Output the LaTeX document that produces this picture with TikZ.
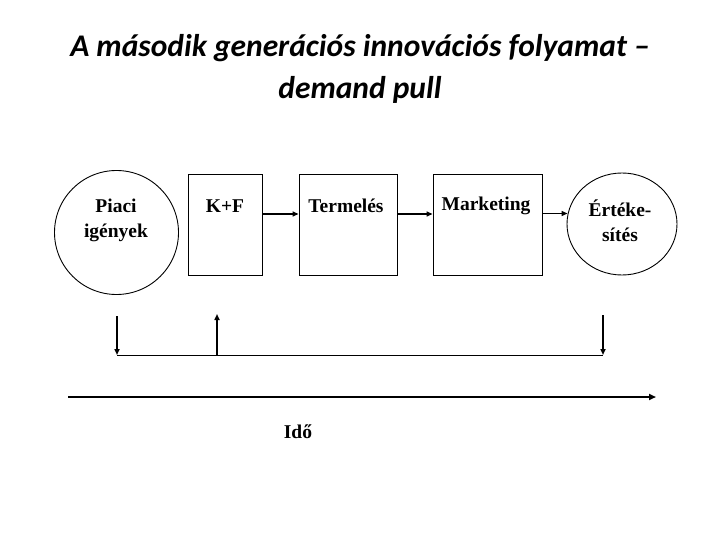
\documentclass[tikz,border=0pt]{standalone}
\usepackage{fontspec}
\setmainfont{Liberation Serif}
\newfontfamily\titlefont{Carlito}
\usetikzlibrary{arrows.meta,shapes.geometric}
\begin{document}
\begin{tikzpicture}[x=1pt,y=-1pt,
  boxshape/.style={draw,line width=0.9pt,minimum width=#1,minimum height=101pt,inner sep=0pt},
  lbl/.style={font=\fontsize{19.5}{25}\selectfont\bfseries,align=center,inner sep=0pt},
  arr/.style={line width=1.6pt,-{Triangle[length=6pt,width=5pt]}},
  thin/.style={line width=0.9pt}]
\useasboundingbox (0,0) rectangle (720,540);
% title
\node[font=\fontsize{31.5}{42}\selectfont\titlefont\bfseries\itshape,align=center] (title) at (360,69)
  {A második generációs innovációs folyamat –\\demand pull};
% shapes
\node[draw,thin,circle,minimum size=124pt,inner sep=0pt] (piaci) at (116.5,232.5) {};
\node[boxshape=74pt] (kf) at (225,224.5) {};
\node[boxshape=98pt] (term) at (348,224.5) {};
\node[boxshape=109pt] (mark) at (487.5,224.5) {};
\node[draw,thin,ellipse,minimum width=110pt,minimum height=102pt,inner sep=0pt] (ert) at (622,224) {};
% labels
\node[lbl] (piacitxt) at (116,220) {Piaci\\igények};
\node[lbl] (kftxt) at (225,206) {K+F};
\node[lbl] (termtxt) at (346,206) {Termelés};
\node[lbl] (marktxt) at (486,206) {Marketing};
\node[lbl] (erttxt) at (620,221) {Értéke-\\sítés};
% arrows between stages
\draw[arr] ([yshift=10.5pt]kf.east) -- ([yshift=10.5pt]term.west);
\draw[arr] ([yshift=10.5pt]term.east) -- ([yshift=10.5pt]mark.west);
\draw[arr] ([yshift=11pt]mark.east) -- ([yshift=11pt,xshift=1pt]mark.east -| ert.west);
% feedback lines
\coordinate (d1top) at (117,316);
\coordinate (d1bot) at (117,355);
\coordinate (u1bot) at (217,355);
\coordinate (u1top) at (217,314);
\coordinate (d2top) at (603,315);
\coordinate (d2bot) at (603,355);
\draw[thin] (d1bot) -- (d2bot);
\draw[arr] (d1top) -- (d1bot);
\draw[arr] (u1bot) -- (u1top);
\draw[arr] (d2top) -- (d2bot);
% time axis
\coordinate (tstart) at (68,397);
\coordinate (tend) at (656,397);
\draw[line width=2.2pt,-{Triangle[length=7pt,width=6pt]}] (tstart) -- (tend);
\node[lbl] (ido) at (298,432) {Idő};
\end{tikzpicture}
\end{document}
